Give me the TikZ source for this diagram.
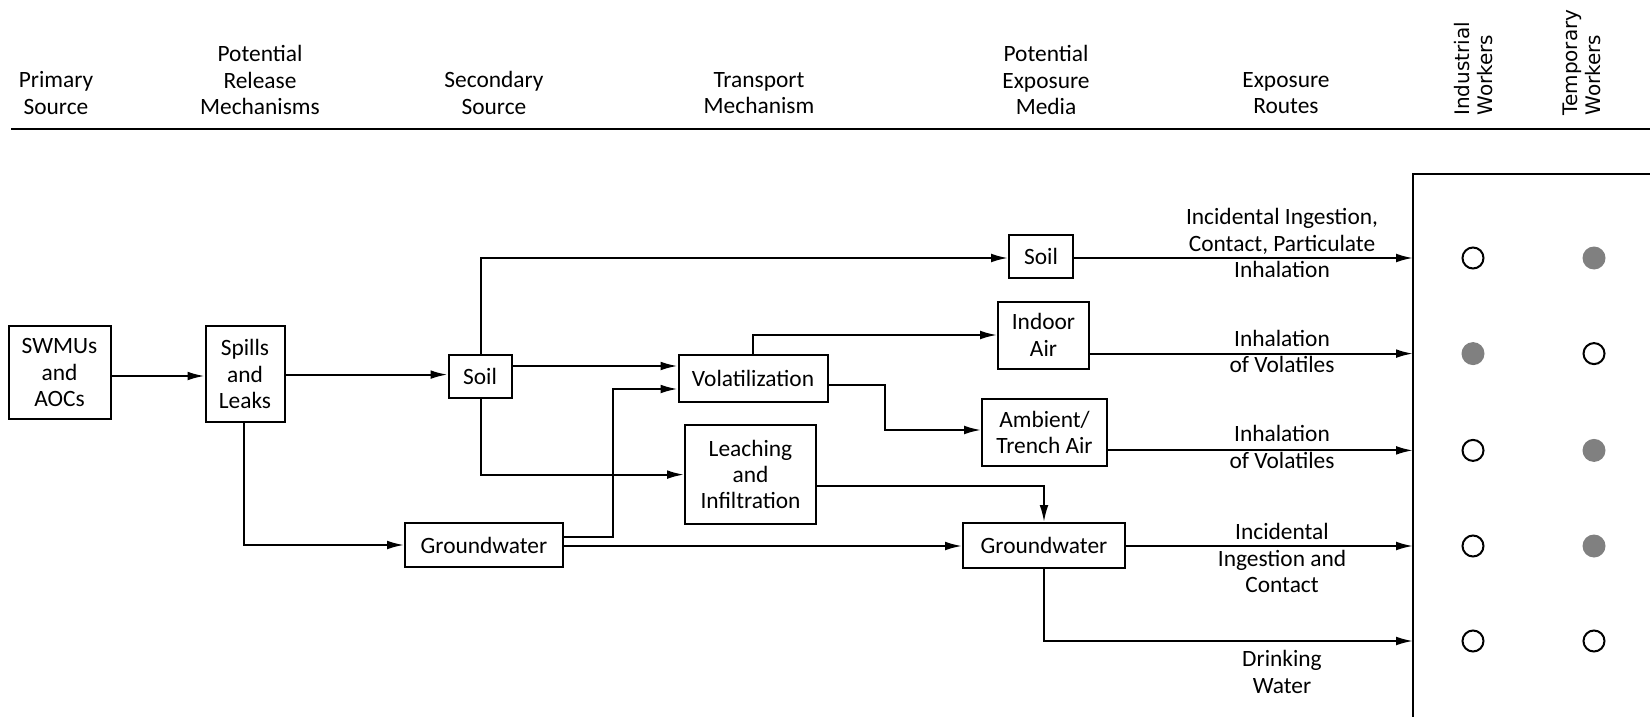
\documentclass[tikz,border=0pt]{standalone}
\usepackage{fontspec}
\setmainfont{Carlito}
\newfontfamily\vfont{DejaVu Sans}
\usetikzlibrary{arrows.meta}
\definecolor{dotgray}{HTML}{808080}
\begin{document}
\begin{tikzpicture}[x=0.5pt,y=-0.5pt,
  every node/.style={font=\fontsize{11.7pt}{13.2pt}\selectfont},
  box/.style={draw,line width=1pt,inner sep=0pt,align=center},
  hdr/.style={align=center},
  vhdr/.style={rotate=90,anchor=west,align=left,inner sep=0pt,font=\vfont\fontsize{10pt}{11.5pt}\selectfont},
  lbl/.style={align=center},
  arr/.style={line width=1pt,-{Latex[length=8.5pt,width=4.4pt]}},
  ln/.style={line width=1pt},
  opendot/.style={circle,draw,line width=1pt,fill=white,minimum size=10.5pt,inner sep=0pt},
  filldot/.style={circle,fill=dotgray,minimum size=11.5pt,inner sep=0pt}]
\useasboundingbox (0,0) rectangle (1650,717);
% header
\node[hdr] (h1) at (56,93) {Primary\\Source};
\node[hdr] (h2) at (260,80) {Potential\\Release\\Mechanisms};
\node[hdr] (h3) at (494,93) {Secondary\\Source};
\node[hdr] (h4) at (759,93) {Transport\\Mechanism};
\node[hdr] (h5) at (1046,80) {Potential\\Exposure\\Media};
\node[hdr] (h6) at (1286,93) {Exposure\\Routes};
\node[vhdr] (h7) at (1474,116) {Industrial\\Workers};
\node[vhdr] (h8) at (1582,116) {Temporary\\Workers};
\coordinate (hl1) at (11,129);
\coordinate (hl2) at (1650,129);
\draw[line width=1.2pt] (hl1) -- (hl2);
% boxes
\node[box,minimum width=102pt/2,minimum height=93pt/2] (swmu) at (59.5,372.5) {SWMUs\\and\\AOCs};
\node[box,minimum width=79pt/2,minimum height=96pt/2] (spill) at (245,374) {Spills\\and\\Leaks};
\node[box,minimum width=63pt/2,minimum height=43pt/2] (soil) at (480,376) {Soil};
\node[box,minimum width=158pt/2,minimum height=44pt/2] (gw) at (484,545) {Groundwater};
\node[box,minimum width=149pt/2,minimum height=47pt/2] (vol) at (753,378.5) {Volatilization};
\node[box,minimum width=131pt/2,minimum height=99pt/2] (leach) at (750.5,474.5) {Leaching\\and\\Infiltration};
\node[box,minimum width=64pt/2,minimum height=43pt/2] (soilm) at (1041,256) {Soil};
\node[box,minimum width=91pt/2,minimum height=67pt/2] (indoor) at (1043.5,335) {Indoor\\Air};
\node[box,minimum width=125pt/2,minimum height=67pt/2] (amb) at (1044.5,432.5) {Ambient/\\Trench Air};
\node[box,minimum width=162pt/2,minimum height=45pt/2] (gwm) at (1044,545.5) {Groundwater};
% receptor box
\coordinate (rb1) at (1413,717);
\coordinate (rb2) at (1413,174);
\coordinate (rb3) at (1650,174);
\draw[ln] (rb1) -- (rb2) -- (rb3);
% connectors
\draw[arr] (swmu.east |- 0,376) -- (spill.west |- 0,376);
\draw[arr] (spill.east |- 0,374.6) -- (soil.west |- 0,374.6);
\draw[arr] (spill.south -| 244,0) |- (gw.west |- 0,545);
\draw[arr] (soil.north -| 481,0) |- (soilm.west |- 0,258);
\draw[arr] (soil.east |- 0,366) -- (vol.west |- 0,366);
\draw[arr] (soil.south -| 481,0) |- (leach.west |- 0,474.6);
\draw[arr] (gw.east |- 0,537) -- (613,537) -- (613,389) -- (vol.west |- 0,389);
\draw[arr] (gw.east |- 0,546) -- (gwm.west |- 0,546);
\draw[arr] (vol.north -| 753,0) |- (indoor.west |- 0,335);
\draw[arr] (vol.east |- 0,385) -- (885,385) -- (885,430) -- (amb.west |- 0,430);
\draw[arr] (leach.east |- 0,486) -| (gwm.north);
\draw[arr] (soilm.east |- 0,258) -- (rb2 |- 0,258);
\draw[arr] (indoor.east |- 0,353.6) -- (rb2 |- 0,353.6);
\draw[arr] (amb.east |- 0,450.4) -- (rb2 |- 0,450.4);
\draw[arr] (gwm.east |- 0,546) -- (rb2 |- 0,546);
\draw[arr] (gwm.south) |- (rb2 |- 0,641);
% route labels
\node[lbl] (r1) at (1282,243) {Incidental Ingestion,\\Contact, Particulate\\Inhalation};
\node[lbl] (r2) at (1282,351.5) {Inhalation\\of Volatiles};
\node[lbl] (r3) at (1282,447) {Inhalation\\of Volatiles};
\node[lbl] (r4) at (1282,558) {Incidental\\Ingestion and\\Contact};
\node[lbl] (r5) at (1282,672) {Drinking\\Water};
% dots
\node[opendot] (d11) at (1473,258) {};
\node[filldot] (d12) at (1594,258) {};
\node[filldot] (d21) at (1473,353.6) {};
\node[opendot] (d22) at (1594,353.6) {};
\node[opendot] (d31) at (1473,450.4) {};
\node[filldot] (d32) at (1594,450.4) {};
\node[opendot] (d41) at (1473,546) {};
\node[filldot] (d42) at (1594,546) {};
\node[opendot] (d51) at (1473,641) {};
\node[opendot] (d52) at (1594,641) {};
\end{tikzpicture}
\end{document}
